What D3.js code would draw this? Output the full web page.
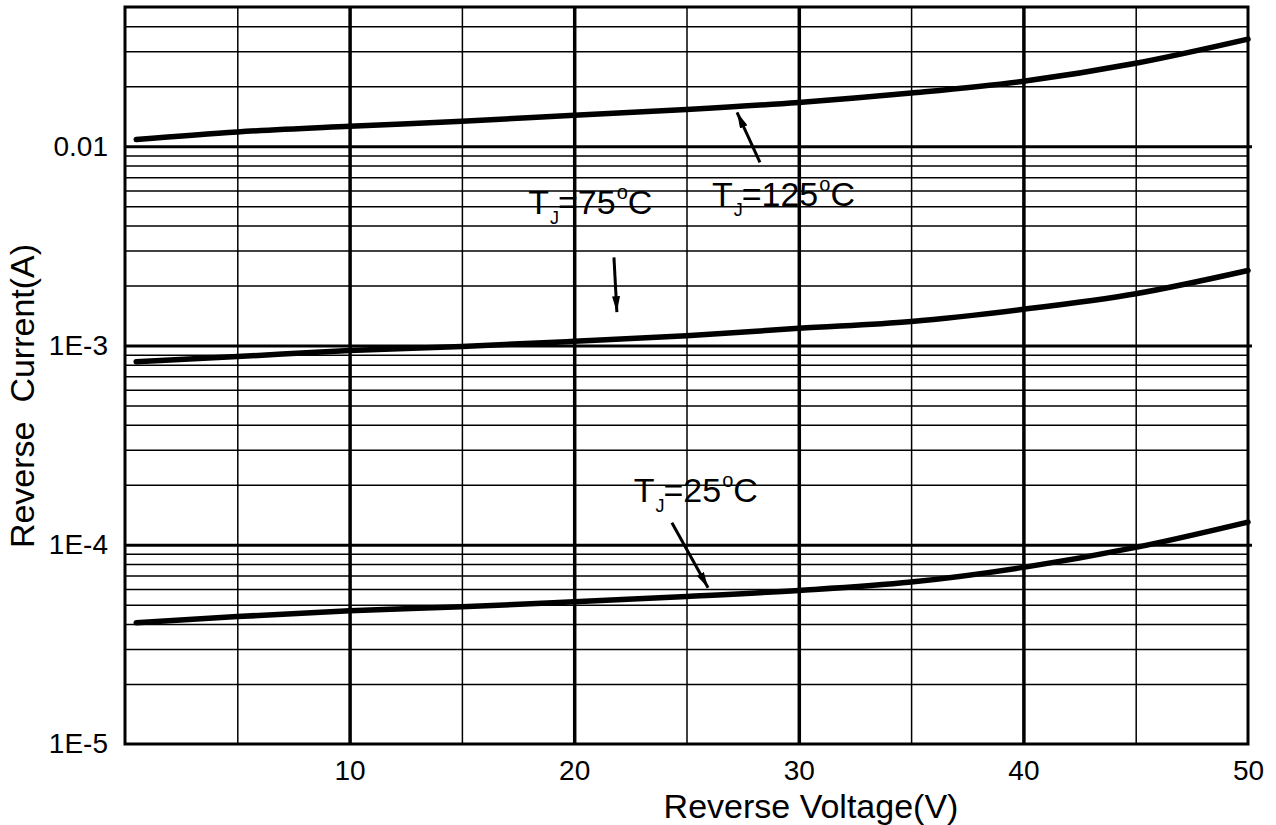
<!DOCTYPE html>
<html>
<meta charset="utf-8">
<head>
<title>Reverse Current vs Reverse Voltage</title>
<style>
body { margin: 0; background: #fff; }
text { font-family: "Liberation Sans", Arial, sans-serif; fill: #000; }
.grid line { stroke: #000; }
.grid path { display: none; }
.minor line { stroke-width: 1.5px; }
.major line { stroke-width: 3.5px; }
.curve { fill: none; stroke: #000; stroke-width: 5.5px; stroke-linecap: round; stroke-linejoin: round; }
.arrow { stroke: #000; stroke-width: 3px; }
.ticklab text { font-size: 28px; }
.ticklab path, .ticklab line { display: none; }
</style>
</head>
<body>
<script src="https://d3js.org/d3.v7.min.js"></script>
<script>

// data
var voltage = [0.5, 5, 10, 15, 20, 25, 30, 35, 40, 45, 50];
var i125 = [0.0108, 0.0118, 0.0126, 0.01335, 0.0143, 0.0153, 0.0166, 0.0185, 0.0212, 0.0261, 0.0345];
var i75  = [8.3e-4, 8.8e-4, 9.44e-4, 9.9e-4, 1.05e-3, 1.12e-3, 1.22e-3, 1.32e-3, 1.52e-3, 1.82e-3, 2.38e-3];
var i25  = [4.06e-5, 4.36e-5, 4.66e-5, 4.88e-5, 5.17e-5, 5.5e-5, 5.9e-5, 6.5e-5, 7.7e-5, 9.7e-5, 1.3e-4];

var xMajor = [10, 20, 30, 40, 50];
var xMinor = [5, 15, 25, 35, 45];
var yMajor = [1e-5, 1e-4, 1e-3, 0.01];
var yLabels = ["1E-5", "1E-4", "1E-3", "0.01"];
var yMinor = [2e-5,3e-5,4e-5,5e-5,6e-5,7e-5,8e-5,9e-5,
              2e-4,3e-4,4e-4,5e-4,6e-4,7e-4,8e-4,9e-4,
              2e-3,3e-3,4e-3,5e-3,6e-3,7e-3,8e-3,9e-3,
              0.02,0.03,0.04];

// annotations: [label temp, label V, label I, arrow start V, I, arrow tip V, I]
var notes = [
  ["125", 26.13, 5.0e-3, 28.27, 8.3e-3, 27.25, 0.0148],
  ["75", 17.95, 4.55e-3, 21.77, 2.77e-3, 21.9, 1.47e-3],
  ["25", 22.65, 1.63e-4, 24.35, 1.29e-4, 25.96, 6.08e-5]
];

var W = 1276, H = 825;
var margin = {top: 7, right: 28, bottom: 81, left: 125};
var width = W - margin.left - margin.right,
    height = H - margin.top - margin.bottom;

var svg = d3.select("body").append("svg")
    .attr("width", W)
    .attr("height", H);

var g = svg.append("g")
    .attr("transform", "translate(" + margin.left + "," + margin.top + ")");

var x = d3.scaleLinear().domain([0, 50]).range([0, width]);
var y = d3.scaleLog().domain([1e-5, 0.05]).range([height, 0]);

// grid lines
g.append("g").attr("class", "grid minor")
    .call(d3.axisBottom(x).tickValues(xMinor).tickSize(height).tickFormat(""));
g.append("g").attr("class", "grid major")
    .call(d3.axisBottom(x).tickValues(xMajor.slice(0, 4)).tickSize(height).tickFormat(""));
g.append("g").attr("class", "grid minor")
    .call(d3.axisLeft(y).tickValues(yMinor).tickSize(-width).tickFormat(""));
g.append("g").attr("class", "grid major")
    .call(d3.axisLeft(y).tickValues(yMajor.slice(1)).tickSize(-width - 4).tickFormat(""))
    .selectAll("line").style("stroke-width", "3px");

// frame
g.append("rect")
    .attr("width", width)
    .attr("height", height)
    .attr("fill", "none")
    .attr("stroke", "#000")
    .attr("stroke-width", 3);

// tick labels
g.append("g").attr("class", "ticklab")
    .attr("transform", "translate(0," + height + ")")
    .call(d3.axisBottom(x).tickValues(xMajor).tickSize(0).tickPadding(16));
g.append("g").attr("class", "ticklab")
    .call(d3.axisLeft(y).tickValues(yMajor).tickSize(0).tickPadding(17)
      .tickFormat(function(d, i) { return yLabels[i]; }));

// axis titles
svg.append("text")
    .attr("x", 811)
    .attr("y", 818)
    .attr("text-anchor", "middle")
    .style("font-size", "34px")
    .text("Reverse Voltage(V)");

svg.append("text")
    .attr("transform", "translate(34," + 396 + ") rotate(-90)")
    .attr("text-anchor", "middle")
    .style("font-size", "34px")
    .style("white-space", "pre")
    .text("Reverse  Current(A)");

// curves
var line = d3.line()
    .x(function(d) { return x(d[0]); })
    .y(function(d) { return y(d[1]); })
    .curve(d3.curveMonotoneX);

[i125, i75, i25].forEach(function(s) {
  g.append("path")
      .attr("class", "curve")
      .attr("d", line(voltage.map(function(v, i) { return [v, s[i]]; })));
});

// arrow head
svg.append("defs").append("marker")
    .attr("id", "head")
    .attr("viewBox", "0 0 16 8")
    .attr("refX", 16).attr("refY", 4)
    .attr("markerWidth", 16).attr("markerHeight", 8)
    .attr("markerUnits", "userSpaceOnUse")
    .attr("orient", "auto")
  .append("path")
    .attr("d", "M0,0 L16,4 L0,8 Z")
    .attr("fill", "#000");

notes.forEach(function(n) {
  g.append("line")
      .attr("class", "arrow")
      .attr("x1", x(n[3])).attr("y1", y(n[4]))
      .attr("x2", x(n[5])).attr("y2", y(n[6]))
      .attr("marker-end", "url(#head)");

  var t = g.append("text")
      .attr("x", x(n[1]))
      .attr("y", y(n[2]))
      .style("font-size", "34px");
  t.append("tspan").text("T");
  t.append("tspan").attr("dy", 10).attr("dx", 1).style("font-size", "18px").text("J");
  t.append("tspan").attr("dy", -10).attr("dx", -1).text("=" + n[0]);
  t.append("tspan").attr("dy", -15).attr("dx", 1).style("font-size", "20px").text("o");
  t.append("tspan").attr("dy", 15).text("C");
});

</script>
</body>
</html>
